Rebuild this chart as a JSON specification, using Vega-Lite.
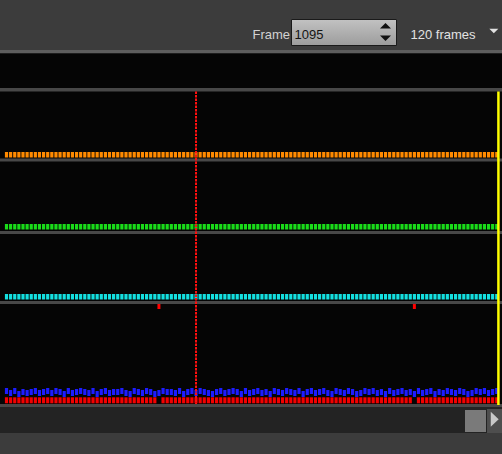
{
  "$schema": "https://vega.github.io/schema/vega-lite/v6.json",
  "width": 502,
  "height": 454,
  "autosize": {"type": "fit", "contains": "padding"},
  "padding": 0,
  "background": "#3c3c3c",
  "config": {"view": {"stroke": null}, "axis": {"disable": true}, "legend": {"disable": true}},
  "datasets": {
    "frames": [
      {"frame":1049,"orange":1,"green":1,"cyan":1,"blue":3,"red":1},
      {"frame":1050,"orange":1,"green":1,"cyan":1,"blue":1,"red":1},
      {"frame":1051,"orange":1,"green":1,"cyan":1,"blue":3,"red":1},
      {"frame":1052,"orange":1,"green":1,"cyan":1,"blue":0,"red":1},
      {"frame":1053,"orange":1,"green":1,"cyan":1,"blue":2,"red":1},
      {"frame":1054,"orange":1,"green":1,"cyan":1,"blue":1,"red":1},
      {"frame":1055,"orange":1,"green":1,"cyan":1,"blue":2,"red":1},
      {"frame":1056,"orange":1,"green":1,"cyan":1,"blue":3,"red":1},
      {"frame":1057,"orange":1,"green":1,"cyan":1,"blue":1,"red":1},
      {"frame":1058,"orange":1,"green":1,"cyan":1,"blue":2,"red":1},
      {"frame":1059,"orange":1,"green":1,"cyan":1,"blue":3,"red":1},
      {"frame":1060,"orange":1,"green":1,"cyan":1,"blue":1,"red":1},
      {"frame":1061,"orange":1,"green":1,"cyan":1,"blue":3,"red":1},
      {"frame":1062,"orange":1,"green":1,"cyan":1,"blue":2,"red":1},
      {"frame":1063,"orange":1,"green":1,"cyan":1,"blue":0,"red":1},
      {"frame":1064,"orange":1,"green":1,"cyan":1,"blue":3,"red":1},
      {"frame":1065,"orange":1,"green":1,"cyan":1,"blue":1,"red":1},
      {"frame":1066,"orange":1,"green":1,"cyan":1,"blue":2,"red":1},
      {"frame":1067,"orange":1,"green":1,"cyan":1,"blue":3,"red":1},
      {"frame":1068,"orange":1,"green":1,"cyan":1,"blue":2,"red":1},
      {"frame":1069,"orange":1,"green":1,"cyan":1,"blue":1,"red":1},
      {"frame":1070,"orange":1,"green":1,"cyan":1,"blue":3,"red":1},
      {"frame":1071,"orange":1,"green":1,"cyan":1,"blue":0,"red":1},
      {"frame":1072,"orange":1,"green":1,"cyan":1,"blue":2,"red":1},
      {"frame":1073,"orange":1,"green":1,"cyan":1,"blue":3,"red":1},
      {"frame":1074,"orange":1,"green":1,"cyan":1,"blue":1,"red":1},
      {"frame":1075,"orange":1,"green":1,"cyan":1,"blue":2,"red":1},
      {"frame":1076,"orange":1,"green":1,"cyan":1,"blue":2,"red":1},
      {"frame":1077,"orange":1,"green":1,"cyan":1,"blue":3,"red":1},
      {"frame":1078,"orange":1,"green":1,"cyan":1,"blue":1,"red":1},
      {"frame":1079,"orange":1,"green":1,"cyan":1,"blue":0,"red":1},
      {"frame":1080,"orange":1,"green":1,"cyan":1,"blue":3,"red":1},
      {"frame":1081,"orange":1,"green":1,"cyan":1,"blue":2,"red":1},
      {"frame":1082,"orange":1,"green":1,"cyan":1,"blue":1,"red":1},
      {"frame":1083,"orange":1,"green":1,"cyan":1,"blue":3,"red":1},
      {"frame":1084,"orange":1,"green":1,"cyan":1,"blue":2,"red":1},
      {"frame":1085,"orange":1,"green":1,"cyan":1,"blue":0,"red":1},
      {"frame":1086,"orange":1,"green":1,"cyan":1,"blue":1,"red":0},
      {"frame":1087,"orange":1,"green":1,"cyan":1,"blue":3,"red":1},
      {"frame":1088,"orange":1,"green":1,"cyan":1,"blue":2,"red":1},
      {"frame":1089,"orange":1,"green":1,"cyan":1,"blue":2,"red":1},
      {"frame":1090,"orange":1,"green":1,"cyan":1,"blue":1,"red":1},
      {"frame":1091,"orange":1,"green":1,"cyan":1,"blue":3,"red":1},
      {"frame":1092,"orange":1,"green":1,"cyan":1,"blue":0,"red":1},
      {"frame":1093,"orange":1,"green":1,"cyan":1,"blue":2,"red":1},
      {"frame":1094,"orange":1,"green":1,"cyan":1,"blue":3,"red":1},
      {"frame":1095,"orange":1,"green":1,"cyan":1,"blue":1,"red":1},
      {"frame":1096,"orange":1,"green":1,"cyan":1,"blue":3,"red":1},
      {"frame":1097,"orange":1,"green":1,"cyan":1,"blue":2,"red":1},
      {"frame":1098,"orange":1,"green":1,"cyan":1,"blue":1,"red":1},
      {"frame":1099,"orange":1,"green":1,"cyan":1,"blue":0,"red":1},
      {"frame":1100,"orange":1,"green":1,"cyan":1,"blue":2,"red":1},
      {"frame":1101,"orange":1,"green":1,"cyan":1,"blue":3,"red":1},
      {"frame":1102,"orange":1,"green":1,"cyan":1,"blue":1,"red":1},
      {"frame":1103,"orange":1,"green":1,"cyan":1,"blue":2,"red":1},
      {"frame":1104,"orange":1,"green":1,"cyan":1,"blue":3,"red":1},
      {"frame":1105,"orange":1,"green":1,"cyan":1,"blue":2,"red":1},
      {"frame":1106,"orange":1,"green":1,"cyan":1,"blue":0,"red":1},
      {"frame":1107,"orange":1,"green":1,"cyan":1,"blue":3,"red":1},
      {"frame":1108,"orange":1,"green":1,"cyan":1,"blue":1,"red":1},
      {"frame":1109,"orange":1,"green":1,"cyan":1,"blue":2,"red":1},
      {"frame":1110,"orange":1,"green":1,"cyan":1,"blue":3,"red":1},
      {"frame":1111,"orange":1,"green":1,"cyan":1,"blue":1,"red":1},
      {"frame":1112,"orange":1,"green":1,"cyan":1,"blue":2,"red":1},
      {"frame":1113,"orange":1,"green":1,"cyan":1,"blue":0,"red":1},
      {"frame":1114,"orange":1,"green":1,"cyan":1,"blue":3,"red":1},
      {"frame":1115,"orange":1,"green":1,"cyan":1,"blue":2,"red":1},
      {"frame":1116,"orange":1,"green":1,"cyan":1,"blue":1,"red":1},
      {"frame":1117,"orange":1,"green":1,"cyan":1,"blue":3,"red":1},
      {"frame":1118,"orange":1,"green":1,"cyan":1,"blue":2,"red":1},
      {"frame":1119,"orange":1,"green":1,"cyan":1,"blue":1,"red":1},
      {"frame":1120,"orange":1,"green":1,"cyan":1,"blue":3,"red":1},
      {"frame":1121,"orange":1,"green":1,"cyan":1,"blue":0,"red":1},
      {"frame":1122,"orange":1,"green":1,"cyan":1,"blue":2,"red":1},
      {"frame":1123,"orange":1,"green":1,"cyan":1,"blue":3,"red":1},
      {"frame":1124,"orange":1,"green":1,"cyan":1,"blue":1,"red":1},
      {"frame":1125,"orange":1,"green":1,"cyan":1,"blue":2,"red":1},
      {"frame":1126,"orange":1,"green":1,"cyan":1,"blue":3,"red":1},
      {"frame":1127,"orange":1,"green":1,"cyan":1,"blue":1,"red":1},
      {"frame":1128,"orange":1,"green":1,"cyan":1,"blue":0,"red":1},
      {"frame":1129,"orange":1,"green":1,"cyan":1,"blue":3,"red":1},
      {"frame":1130,"orange":1,"green":1,"cyan":1,"blue":2,"red":1},
      {"frame":1131,"orange":1,"green":1,"cyan":1,"blue":1,"red":1},
      {"frame":1132,"orange":1,"green":1,"cyan":1,"blue":3,"red":1},
      {"frame":1133,"orange":1,"green":1,"cyan":1,"blue":2,"red":1},
      {"frame":1134,"orange":1,"green":1,"cyan":1,"blue":0,"red":1},
      {"frame":1135,"orange":1,"green":1,"cyan":1,"blue":1,"red":1},
      {"frame":1136,"orange":1,"green":1,"cyan":1,"blue":3,"red":1},
      {"frame":1137,"orange":1,"green":1,"cyan":1,"blue":2,"red":1},
      {"frame":1138,"orange":1,"green":1,"cyan":1,"blue":3,"red":1},
      {"frame":1139,"orange":1,"green":1,"cyan":1,"blue":1,"red":1},
      {"frame":1140,"orange":1,"green":1,"cyan":1,"blue":2,"red":1},
      {"frame":1141,"orange":1,"green":1,"cyan":1,"blue":0,"red":1},
      {"frame":1142,"orange":1,"green":1,"cyan":1,"blue":3,"red":1},
      {"frame":1143,"orange":1,"green":1,"cyan":1,"blue":1,"red":1},
      {"frame":1144,"orange":1,"green":1,"cyan":1,"blue":2,"red":1},
      {"frame":1145,"orange":1,"green":1,"cyan":1,"blue":3,"red":1},
      {"frame":1146,"orange":1,"green":1,"cyan":1,"blue":1,"red":1},
      {"frame":1147,"orange":1,"green":1,"cyan":1,"blue":2,"red":1},
      {"frame":1148,"orange":1,"green":1,"cyan":1,"blue":0,"red":0},
      {"frame":1149,"orange":1,"green":1,"cyan":1,"blue":3,"red":1},
      {"frame":1150,"orange":1,"green":1,"cyan":1,"blue":1,"red":1},
      {"frame":1151,"orange":1,"green":1,"cyan":1,"blue":2,"red":1},
      {"frame":1152,"orange":1,"green":1,"cyan":1,"blue":3,"red":1},
      {"frame":1153,"orange":1,"green":1,"cyan":1,"blue":0,"red":1},
      {"frame":1154,"orange":1,"green":1,"cyan":1,"blue":2,"red":1},
      {"frame":1155,"orange":1,"green":1,"cyan":1,"blue":1,"red":1},
      {"frame":1156,"orange":1,"green":1,"cyan":1,"blue":3,"red":1},
      {"frame":1157,"orange":1,"green":1,"cyan":1,"blue":2,"red":1},
      {"frame":1158,"orange":1,"green":1,"cyan":1,"blue":1,"red":1},
      {"frame":1159,"orange":1,"green":1,"cyan":1,"blue":3,"red":1},
      {"frame":1160,"orange":1,"green":1,"cyan":1,"blue":2,"red":1},
      {"frame":1161,"orange":1,"green":1,"cyan":1,"blue":0,"red":1},
      {"frame":1162,"orange":1,"green":1,"cyan":1,"blue":1,"red":1},
      {"frame":1163,"orange":1,"green":1,"cyan":1,"blue":3,"red":1},
      {"frame":1164,"orange":1,"green":1,"cyan":1,"blue":2,"red":1},
      {"frame":1165,"orange":1,"green":1,"cyan":1,"blue":3,"red":1},
      {"frame":1166,"orange":1,"green":1,"cyan":1,"blue":1,"red":1},
      {"frame":1167,"orange":1,"green":1,"cyan":1,"blue":2,"red":1},
      {"frame":1168,"orange":1,"green":1,"cyan":1,"blue":3,"red":1}
    ],
    "events": [
      {"frame":1086,"count":1},
      {"frame":1148,"count":1}
    ]
  },
  "layer": [
    {
      "data": {"values": [{}]},
      "layer": [
        {
          "mark": {"type": "rect", "color": "#050505"},
          "encoding": {
            "x": {"datum": 0, "type": "quantitative", "scale": {"domain": [0, 502], "nice": false, "zero": false}},
            "x2": {"datum": 502},
            "y": {"datum": 54, "type": "quantitative", "scale": {"domain": [0, 454], "reverse": true, "nice": false, "zero": false}},
            "y2": {"datum": 404}
          }
        },
        {
          "mark": {"type": "rect", "color": "#5e5e5e"},
          "encoding": {"x": {"datum": 0, "type": "quantitative"}, "x2": {"datum": 502}, "y": {"datum": 50, "type": "quantitative"}, "y2": {"datum": 53}}
        },
        {
          "mark": {"type": "rect", "color": "#1e1e1e"},
          "encoding": {"x": {"datum": 0, "type": "quantitative"}, "x2": {"datum": 502}, "y": {"datum": 53, "type": "quantitative"}, "y2": {"datum": 54}}
        },
        {
          "mark": {"type": "rect", "color": "#484848"},
          "encoding": {"x": {"datum": 0, "type": "quantitative"}, "x2": {"datum": 502}, "y": {"datum": 88, "type": "quantitative"}, "y2": {"datum": 91.5}}
        },
        {
          "mark": {"type": "rect", "color": "#484848"},
          "encoding": {"x": {"datum": 0, "type": "quantitative"}, "x2": {"datum": 502}, "y": {"datum": 158.5, "type": "quantitative"}, "y2": {"datum": 161.5}}
        },
        {
          "mark": {"type": "rect", "color": "#484848"},
          "encoding": {"x": {"datum": 0, "type": "quantitative"}, "x2": {"datum": 502}, "y": {"datum": 231, "type": "quantitative"}, "y2": {"datum": 234}}
        },
        {
          "mark": {"type": "rect", "color": "#484848"},
          "encoding": {"x": {"datum": 0, "type": "quantitative"}, "x2": {"datum": 502}, "y": {"datum": 301, "type": "quantitative"}, "y2": {"datum": 304}}
        },
        {
          "mark": {"type": "rect", "color": "#484848"},
          "encoding": {"x": {"datum": 0, "type": "quantitative"}, "x2": {"datum": 502}, "y": {"datum": 404, "type": "quantitative"}, "y2": {"datum": 407}}
        },
        {
          "mark": {"type": "rect", "color": "#232323"},
          "encoding": {"x": {"datum": 0, "type": "quantitative"}, "x2": {"datum": 502}, "y": {"datum": 407, "type": "quantitative"}, "y2": {"datum": 433}}
        },
        {
          "mark": {"type": "rect", "color": "#7a7a7a"},
          "encoding": {"x": {"datum": 465, "type": "quantitative"}, "x2": {"datum": 486}, "y": {"datum": 410, "type": "quantitative"}, "y2": {"datum": 432}}
        },
        {
          "mark": {"type": "rect", "color": "#4e4e4e"},
          "encoding": {"x": {"datum": 487, "type": "quantitative"}, "x2": {"datum": 502}, "y": {"datum": 409, "type": "quantitative"}, "y2": {"datum": 433}}
        },
        {
          "mark": {"type": "point", "filled": true, "opacity": 1, "color": "#c8c8c8", "size": 225, "shape": "M-0.53,-1L0.53,0L-0.53,1Z"},
          "encoding": {"x": {"datum": 494.7, "type": "quantitative"}, "y": {"datum": 419.2, "type": "quantitative"}}
        },
        {
          "mark": {
            "type": "rect",
            "stroke": "#1a1a1a",
            "strokeWidth": 1,
            "fill": {"gradient": "linear", "x1": 0, "y1": 0, "x2": 0, "y2": 1, "stops": [{"offset": 0, "color": "#c2c2c2"}, {"offset": 1, "color": "#9c9c9c"}]}
          },
          "encoding": {"x": {"datum": 291.5, "type": "quantitative"}, "x2": {"datum": 396.5}, "y": {"datum": 19.5, "type": "quantitative"}, "y2": {"datum": 45.5}}
        },
        {
          "mark": {"type": "point", "filled": true, "opacity": 1, "color": "#111111", "size": 121, "shape": "M-1,0.5L0,-0.5L1,0.5Z"},
          "encoding": {"x": {"datum": 385.5, "type": "quantitative"}, "y": {"datum": 25.8, "type": "quantitative"}}
        },
        {
          "mark": {"type": "point", "filled": true, "opacity": 1, "color": "#111111", "size": 121, "shape": "M-1,-0.5L1,-0.5L0,0.5Z"},
          "encoding": {"x": {"datum": 385.5, "type": "quantitative"}, "y": {"datum": 38.2, "type": "quantitative"}}
        },
        {
          "mark": {"type": "text", "text": "Frame", "align": "left", "baseline": "alphabetic", "font": "Liberation Sans", "fontSize": 13, "color": "#d2d2d2"},
          "encoding": {"x": {"datum": 252.5, "type": "quantitative"}, "y": {"datum": 39, "type": "quantitative"}}
        },
        {
          "mark": {"type": "text", "text": "1095", "align": "left", "baseline": "alphabetic", "font": "Liberation Sans", "fontSize": 13, "color": "#141414"},
          "encoding": {"x": {"datum": 294.5, "type": "quantitative"}, "y": {"datum": 39, "type": "quantitative"}}
        },
        {
          "mark": {"type": "text", "text": "120 frames", "align": "left", "baseline": "alphabetic", "font": "Liberation Sans", "fontSize": 13, "color": "#e2e2e2"},
          "encoding": {"x": {"datum": 410.5, "type": "quantitative"}, "y": {"datum": 39, "type": "quantitative"}}
        },
        {
          "mark": {"type": "point", "filled": true, "opacity": 1, "color": "#e2e2e2", "size": 81, "shape": "M-1,-0.5L1,-0.5L0,0.5Z"},
          "encoding": {"x": {"datum": 493.8, "type": "quantitative"}, "y": {"datum": 31, "type": "quantitative"}}
        }
      ]
    },
    {
      "data": {"name": "frames"},
      "layer": [
        {
          "mark": {"type": "tick", "orient": "vertical", "thickness": 3.2, "size": 5.5, "color": "#ff8a00", "opacity": 1},
          "encoding": {
            "x": {"field": "frame", "type": "quantitative", "scale": {"domain": [1047.42, 1169.27], "nice": false, "zero": false}},
            "y": {"field": "orange", "type": "quantitative", "scale": {"domain": [0, 2], "range": [157.5, 152], "nice": false, "zero": false}}
          }
        },
        {
          "mark": {"type": "tick", "orient": "vertical", "thickness": 3.2, "size": 5.5, "color": "#1adc1a", "opacity": 1},
          "encoding": {
            "x": {"field": "frame", "type": "quantitative", "scale": {"domain": [1047.42, 1169.27], "nice": false, "zero": false}},
            "y": {"field": "green", "type": "quantitative", "scale": {"domain": [0, 2], "range": [229.5, 224], "nice": false, "zero": false}}
          }
        },
        {
          "mark": {"type": "tick", "orient": "vertical", "thickness": 3.2, "size": 5.5, "color": "#14e0e0", "opacity": 1},
          "encoding": {
            "x": {"field": "frame", "type": "quantitative", "scale": {"domain": [1047.42, 1169.27], "nice": false, "zero": false}},
            "y": {"field": "cyan", "type": "quantitative", "scale": {"domain": [0, 2], "range": [299.5, 294], "nice": false, "zero": false}}
          }
        },
        {
          "mark": {"type": "tick", "orient": "vertical", "thickness": 3.2, "size": 6, "color": "#1c1cff", "opacity": 1},
          "encoding": {
            "x": {"field": "frame", "type": "quantitative", "scale": {"domain": [1047.42, 1169.27], "nice": false, "zero": false}},
            "y": {"field": "blue", "type": "quantitative", "scale": {"domain": [0, 3], "range": [394, 391], "nice": false, "zero": false}}
          }
        },
        {
          "transform": [{"filter": "datum.red == 1"}],
          "mark": {"type": "tick", "orient": "vertical", "thickness": 3.2, "size": 6, "color": "#f40000", "opacity": 1},
          "encoding": {
            "x": {"field": "frame", "type": "quantitative", "scale": {"domain": [1047.42, 1169.27], "nice": false, "zero": false}},
            "y": {"field": "red", "type": "quantitative", "scale": {"domain": [0, 2], "range": [403.3, 397.3], "nice": false, "zero": false}}
          }
        },
        {
          "data": {"name": "events"},
          "mark": {"type": "tick", "orient": "vertical", "thickness": 3, "size": 5, "color": "#ff0000", "opacity": 1},
          "encoding": {
            "x": {"field": "frame", "type": "quantitative", "scale": {"domain": [1047.42, 1169.27], "nice": false, "zero": false}},
            "y": {"field": "count", "type": "quantitative", "scale": {"domain": [0, 2], "range": [309, 304], "nice": false, "zero": false}}
          }
        },
        {
          "data": {"values": [{}]},
          "mark": {"type": "rule", "color": "#ff1010", "strokeWidth": 2, "strokeDash": [2.5, 1]},
          "encoding": {
            "x": {"datum": 1095, "type": "quantitative", "scale": {"domain": [1047.42, 1169.27], "nice": false, "zero": false}},
            "y": {"datum": 91.5, "type": "quantitative", "scale": {"domain": [0, 454], "reverse": true, "nice": false, "zero": false}},
            "y2": {"datum": 404}
          }
        },
        {
          "data": {"values": [{}]},
          "mark": {"type": "rule", "color": "#ffff00", "strokeWidth": 2.5},
          "encoding": {
            "x": {"datum": 1168.4, "type": "quantitative", "scale": {"domain": [1047.42, 1169.27], "nice": false, "zero": false}},
            "y": {"datum": 91.5, "type": "quantitative", "scale": {"domain": [0, 454], "reverse": true, "nice": false, "zero": false}},
            "y2": {"datum": 405}
          }
        }
      ],
      "resolve": {"scale": {"y": "independent"}}
    }
  ],
  "resolve": {"scale": {"x": "independent", "y": "independent"}}
}
